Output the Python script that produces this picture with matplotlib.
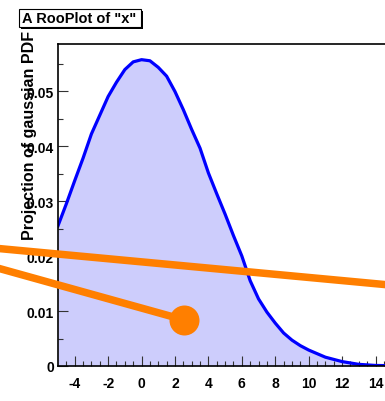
import matplotlib
matplotlib.use("Agg")
import matplotlib.pyplot as plt
from matplotlib.patches import Rectangle

plt.rcParams["axes.unicode_minus"] = False

# ---- data ----
curve_x = [-5, -4.5, -4, -3.5, -3, -2.5, -2, -1.5, -1, -0.5, 0, 0.5, 1, 1.5, 2, 2.5,
           3, 3.5, 4, 4.5, 5, 5.5, 6, 6.5, 7, 7.5, 8, 8.5, 9, 9.5, 10, 11, 12, 13, 14, 15]
curve_y = [0.0255, 0.0295, 0.0337, 0.0378, 0.0422, 0.0456, 0.0490, 0.0516, 0.0539, 0.0553,
           0.0557, 0.0555, 0.0543, 0.0527, 0.0499, 0.0466, 0.0430, 0.0396, 0.0351, 0.0313,
           0.0276, 0.0237, 0.0200, 0.0155, 0.0122, 0.0098, 0.0078, 0.0060, 0.0047, 0.0037,
           0.0029, 0.0016, 0.0008, 0.0003, 0.0001, 0.00005]
line1_x = [-9.0, 16.0]
line1_y = [0.02149, 0.01440]
line2_x = [-9.0, 2.567]
line2_y = [0.01814, 0.00836]
marker_x = [2.567]
marker_y = [0.00836]
xticks = [-4, -2, 0, 2, 4, 6, 8, 10, 12, 14]
yticks = [0, 0.01, 0.02, 0.03, 0.04, 0.05]
ytick_labels = ["0", "0.01", "0.02", "0.03", "0.04", "0.05"]
title = 'A RooPlot of "x"'
ylabel = "Projection of gaussian PDF"

W, H = 385, 402
fig = plt.figure(figsize=(W / 100, H / 100), dpi=100)
fig.patch.set_facecolor("white")

ax = fig.add_axes([58 / W, 35 / H, 334.25 / W, 322 / H])
ax.set_xlim(-5, 15)
ax.set_ylim(0, 0.05855)

ax.fill_between(curve_x, curve_y, 0, color="#cdcdfc", linewidth=0, zorder=1)
ax.plot(curve_x, curve_y, color="#0000ff", linewidth=2.3, zorder=2)

ax.plot(line1_x, line1_y, color="#ff7f00", linewidth=5.4, clip_on=False, zorder=5,
        solid_capstyle="butt")
ax.plot(line2_x, line2_y, color="#ff7f00", linewidth=5.4, clip_on=False, zorder=5,
        solid_capstyle="butt")
ax.plot(marker_x, marker_y, "o", color="#ff7f00", markersize=21.6, clip_on=False, zorder=6,
        markeredgewidth=0)

for s in ["left", "bottom", "top"]:
    ax.spines[s].set_linewidth(1.2)
    ax.spines[s].set_color("black")
ax.spines["right"].set_visible(False)

ax.set_xticks(xticks)
ax.set_xticks([x / 2 for x in range(-9, 30)], minor=True)
ax.set_yticks(yticks)
ax.set_yticklabels(ytick_labels)
ax.set_yticks([0.005 * i for i in range(12)], minor=True)
ax.tick_params(which="both", direction="in", color="#333333", width=0.8)
ax.tick_params(which="major", length=7.2)
ax.tick_params(which="minor", length=3.6)
ax.tick_params(axis="x", which="both", top=False, pad=7)
ax.tick_params(axis="y", which="both", right=False, pad=3)
for lab in ax.get_xticklabels() + ax.get_yticklabels():
    lab.set_fontfamily("Liberation Sans")
    lab.set_fontweight("bold")
    lab.set_fontsize(10)

fig.text(30 / W, 1 - 31 / H, ylabel, rotation=90, ha="center", va="top",
         fontsize=11.5, fontfamily="Liberation Sans", fontweight="bold", zorder=10)

# title box with shadow
fig.patches.append(Rectangle((21 / W, 1 - 30 / H), 122 / W, 18 / H, transform=fig.transFigure,
                             facecolor="black", edgecolor="none", zorder=8))
fig.patches.append(Rectangle((19 / W, 1 - 28 / H), 122 / W, 18 / H, transform=fig.transFigure,
                             facecolor="white", edgecolor="black", linewidth=0.8, zorder=9))
fig.text(22 / W, 1 - 19 / H, title, ha="left", va="center", fontsize=10.5,
         fontfamily="Liberation Sans", fontweight="bold", zorder=10)

fig.savefig("out.png", dpi=100)
